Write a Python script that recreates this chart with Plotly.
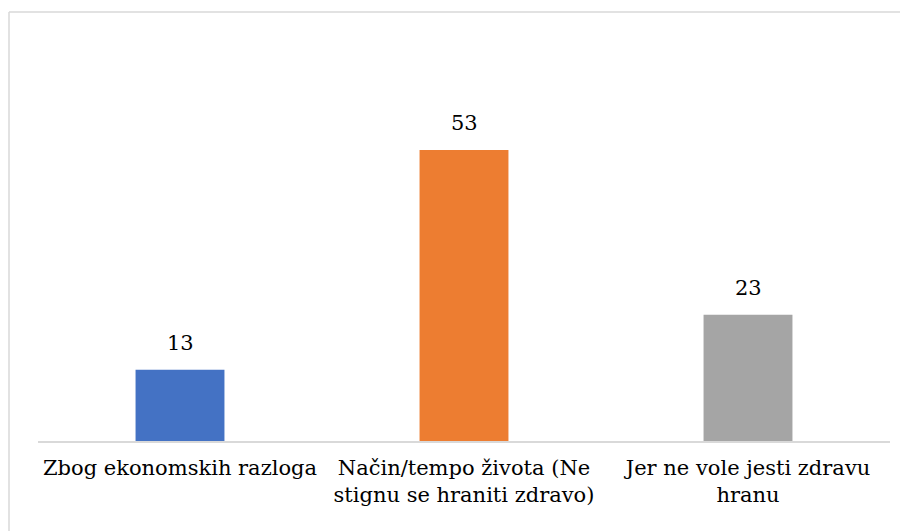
import plotly.graph_objects as go

categories = ["Zbog ekonomskih razloga",
              "Način/tempo života (Ne<br>stignu se hraniti zdravo)",
              "Jer ne vole jesti zdravu<br>hranu"]
values = [13, 53, 23]
colors = ["#4472C4", "#ED7D31", "#A5A5A5"]

FONT = "DejaVu Serif"
FS = 21

# page body has an 8px margin, so the figure is drawn at (8, 8)
W, H = 900, 523
L, R, T, B = 30, 18, 40, 90

fig = go.Figure()
fig.add_trace(go.Bar(x=categories, y=values, marker_color=colors,
                     marker_line_width=0, width=0.313, hoverinfo="skip"))

for c, v in zip(categories, values):
    fig.add_annotation(x=c, y=v, text=str(v), showarrow=False,
                       yanchor="bottom", yshift=13,
                       font=dict(family=FONT, size=FS, color="#000000"))

pw = W - L - R
ph = H - T - B
x_left = (1 - L) / pw
y_top = (H - B - 4) / ph
fig.add_shape(type="line", xref="paper", yref="paper", x0=x_left, x1=x_left,
              y0=y_top, y1=-0.5, line=dict(color="#d9d9d9", width=1.5))
fig.add_shape(type="line", xref="paper", yref="paper", x0=x_left, x1=1.2,
              y0=y_top, y1=y_top, line=dict(color="#d9d9d9", width=1.5))

fig.update_layout(
    width=W, height=H,
    margin=dict(l=L, r=R, t=T, b=B),
    paper_bgcolor="white", plot_bgcolor="white",
    showlegend=False,
    font=dict(family=FONT, size=FS, color="#000000"),
    xaxis=dict(showline=True, linecolor="#d9d9d9", linewidth=1.5,
               showgrid=False, ticks="", tickangle=0, ticklabelstandoff=7,
               tickfont=dict(family=FONT, size=FS, color="#000000")),
    yaxis=dict(visible=False, range=[0, 71.6]),
)

fig.write_html("out.html")
